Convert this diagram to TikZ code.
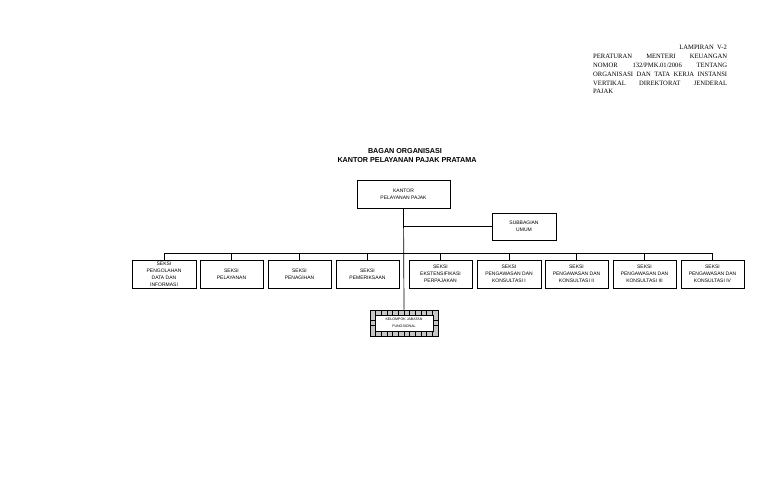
\documentclass[tikz,border=0pt]{standalone}
\usepackage{fontspec}
\setmainfont{Liberation Sans}
\newfontfamily\hdrfont{Liberation Serif}
\begin{document}
\begin{tikzpicture}[x=1pt,y=-1pt,
  orgbox/.style={draw,line width=0.8pt,fill=white,minimum height=28pt,inner sep=0pt,align=center,
     font=\fontsize{5}{7}\selectfont},
  conn/.style={draw,line width=0.7pt},
  hdr/.style={anchor=west,inner sep=0pt,font=\hdrfont\fontsize{6.6}{8}\selectfont},
  ttl/.style={inner sep=0pt,font=\bfseries\fontsize{7.2}{9}\selectfont}]
\useasboundingbox[fill=white] (0,0) rectangle (768,502);
% header
\node[hdr,anchor=east] (h1) at (727,47) {LAMPIRAN\ \ V-2};
\node[hdr] (h2) at (593,56) {\makebox[134pt][s]{PERATURAN\hfill MENTERI\hfill KEUANGAN}};
\node[hdr] (h3) at (593,65) {\makebox[134pt][s]{NOMOR\hfill 132/PMK.01/2006\hfill TENTANG}};
\node[hdr] (h4) at (593,74) {\makebox[134pt][s]{ORGANISASI DAN TATA KERJA INSTANSI}};
\node[hdr] (h5) at (593,83) {\makebox[134pt][s]{VERTIKAL\hfill DIREKTORAT\hfill JENDERAL}};
\node[hdr] (h6) at (593,91) {PAJAK};
% title
\node[ttl] (t1) at (405,151) {BAGAN ORGANISASI};
\node[ttl] (t2) at (407,160) {KANTOR PELAYANAN PAJAK PRATAMA};
% top boxes
\node[orgbox,minimum width=93pt,minimum height=28pt] (kpp) at (403.5,194.5) {KANTOR\\PELAYANAN PAJAK};
\node[orgbox,minimum width=64pt,minimum height=27pt] (sub) at (524,226.5) {SUBBAGIAN\\UMUM};
% bottom row
\node[orgbox,minimum width=64pt] (b1) at (164,274) {SEKSI\\PENGOLAHAN\\DATA DAN\\INFORMASI};
\node[orgbox,minimum width=63pt] (b2) at (231.5,274) {SEKSI\\PELAYANAN};
\node[orgbox,minimum width=63pt] (b3) at (299.5,274) {SEKSI\\PENAGIHAN};
\node[orgbox,minimum width=63pt] (b4) at (367.5,274) {SEKSI\\PEMERIKSAAN};
\node[orgbox,minimum width=63pt] (b5) at (440.5,274) {SEKSI\\EKSTENSIFIKASI\\PERPAJAKAN};
\node[orgbox,minimum width=64pt] (b6) at (509,274) {SEKSI\\PENGAWASAN DAN\\KONSULTASI I};
\node[orgbox,minimum width=63pt] (b7) at (576.5,274) {SEKSI\\PENGAWASAN DAN\\KONSULTASI II};
\node[orgbox,minimum width=63pt] (b8) at (644.5,274) {SEKSI\\PENGAWASAN DAN\\KONSULTASI III};
\node[orgbox,minimum width=63pt] (b9) at (712.5,274) {SEKSI\\PENGAWASAN DAN\\KONSULTASI IV};
% kelompok jabatan fungsional
\fill[gray!45] (370,310) rectangle (438,336);
\fill[white] (375,315) rectangle (433,331);
\foreach \i in {1,...,11} {
  \draw[line width=0.5pt] ({370+\i*68/12},310) -- ({370+\i*68/12},315);
  \draw[line width=0.5pt] ({370+\i*68/12},331) -- ({370+\i*68/12},336);
}
\foreach \j in {1,2} {
  \draw[line width=0.5pt] (370,{315+\j*16/3}) -- (375,{315+\j*16/3});
  \draw[line width=0.5pt] (433,{315+\j*16/3}) -- (438,{315+\j*16/3});
}
\draw[line width=0.5pt] (375,315) rectangle (433,331);
\node[draw,line width=0.8pt,minimum width=68pt,minimum height=26pt,inner sep=0pt,align=center,
  font=\fontsize{3.6}{7}\selectfont] (kel) at (404,323) {KELOMPOK JABATAN\\FUNGSIONAL};
% connectors
\coordinate (busL) at (164,253);
\coordinate (busR) at (712.5,253);
\draw[conn] (kpp.south) -- (kel.north);
\draw[conn] (kpp.south |- sub.west) -- (sub.west);
\draw[conn] (busL) -- (busR);
\foreach \b in {b1,b2,b3,b4,b5,b6,b7,b8,b9}
  \draw[conn] (\b.north) -- (\b.north |- busL);
\end{tikzpicture}
\end{document}
